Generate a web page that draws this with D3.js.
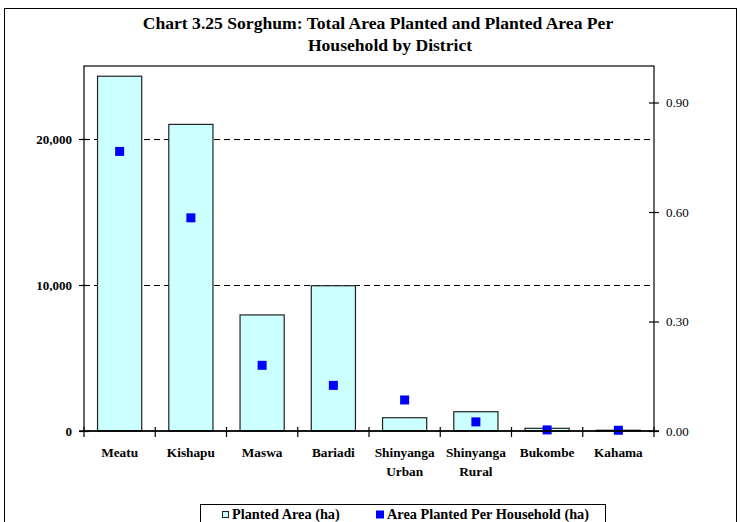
<!DOCTYPE html>
<html><head><meta charset="utf-8">
<script src="https://cdn.jsdelivr.net/npm/d3@7/dist/d3.min.js"></script>
<style>body{margin:0;background:#fff}svg{display:block}text{font-family:"Liberation Serif","Times New Roman",serif}</style>
</head><body><svg id="c" width="740" height="522"></svg>
<script>
const districts = [["Meatu"],["Kishapu"],["Maswa"],["Bariadi"],["Shinyanga","Urban"],["Shinyanga","Rural"],["Bukombe"],["Kahama"]];
const plantedArea = [24300, 21000, 7950, 9950, 910, 1320, 185, 50];
const perHousehold = [0.766, 0.584, 0.180, 0.125, 0.085, 0.025, 0.003, 0.002];
const leftTicks = [0, 10000, 20000];
const rightTicks = [0, 0.30, 0.60, 0.90];
const gridTicks = [10000, 20000];
const titleLines = ["Chart 3.25 Sorghum: Total Area Planted and Planted Area Per", "Household by District"];
const legendLabels = ["Planted Area (ha)", "Area Planted Per Household (ha)"];

const svg = d3.select("#c");
const L = 84, R = 654, T = 66, B = 431;
const names = districts.map(d => d.join(" "));
const x = d3.scaleBand().domain(names).range([L, R]).paddingInner(0.38).paddingOuter(0.19);
const xb = d3.scaleBand().domain(names).range([L, R]);
const yL = d3.scaleLinear().domain([0, 25000]).range([B, T]);
const yR = d3.scaleLinear().domain([0, 1.0]).range([B, T]);

// outer frame
svg.append("rect").attr("x", 4.5).attr("y", 8.5).attr("width", 732).attr("height", 530)
  .attr("fill", "none").attr("stroke", "#000").attr("stroke-width", 1);

// title
const titleX = [378, 390];
svg.append("g").selectAll("text").data(titleLines).join("text")
  .attr("x", (d, i) => titleX[i]).attr("y", (d, i) => 29 + i * 22).attr("text-anchor", "middle")
  .attr("font-size", 17.6).attr("font-weight", "bold").text(d => d);

// gridlines
svg.append("g").selectAll("line").data(gridTicks).join("line")
  .attr("x1", L).attr("x2", R).attr("y1", d => Math.round(yL(d)) + 0.5).attr("y2", d => Math.round(yL(d)) + 0.5)
  .attr("stroke", "#000").attr("stroke-dasharray", "6,4");

// bars
svg.append("g").selectAll("rect").data(plantedArea).join("rect")
  .attr("x", (d, i) => x(names[i])).attr("width", x.bandwidth())
  .attr("y", d => yL(d)).attr("height", d => B - yL(d))
  .attr("fill", "#CCFFFF").attr("stroke", "#222").attr("stroke-width", 1.2);

// markers
const ms = 9;
svg.append("g").selectAll("rect").data(perHousehold).join("rect")
  .attr("x", (d, i) => xb(names[i]) + xb.bandwidth() / 2 - ms / 2)
  .attr("y", d => yR(d) - ms / 2).attr("width", ms).attr("height", ms).attr("fill", "#0000FF");

// plot frame
svg.append("rect").attr("x", L).attr("y", T).attr("width", R - L).attr("height", B - T)
  .attr("fill", "none").attr("stroke", "#000").attr("stroke-width", 1.2);

// left axis
const gl = svg.append("g").attr("transform", `translate(${L},0)`)
  .call(d3.axisLeft(yL).tickValues(leftTicks).tickSize(5).tickFormat(d3.format(",")));
gl.select(".domain").remove();
gl.selectAll(".tick line").attr("x1", -5).attr("x2", 5).attr("stroke-width", 1.2);
gl.selectAll("text").attr("font-family", "Liberation Serif").attr("font-size", 13).attr("font-weight", "bold").attr("fill", "#000").attr("x", -12);

// right axis
const gr = svg.append("g").attr("transform", `translate(${R},0)`)
  .call(d3.axisRight(yR).tickValues(rightTicks).tickSize(5).tickFormat(d3.format(".2f")));
gr.select(".domain").remove();
gr.selectAll(".tick line").attr("x1", -5).attr("x2", 5).attr("stroke-width", 1.2);
gr.selectAll("text").attr("font-family", "Liberation Serif").attr("font-size", 13).attr("fill", "#000").attr("x", 12);

// bottom axis
svg.append("line").attr("x1", L - 5).attr("x2", R + 5).attr("y1", B).attr("y2", B).attr("stroke", "#000").attr("stroke-width", 1.5);
const bounds = names.map(n => xb(n)).concat([R]);
svg.append("g").selectAll("line").data(bounds).join("line")
  .attr("x1", d => d).attr("x2", d => d).attr("y1", B - 4).attr("y2", B + 6).attr("stroke", "#000").attr("stroke-width", 1.2);
const xl = svg.append("g").selectAll("text").data(districts).join("text")
  .attr("text-anchor", "middle").attr("font-size", 13.3).attr("font-weight", "bold")
  .attr("transform", (d, i) => `translate(${xb(names[i]) + xb.bandwidth() / 2},0)`);
xl.selectAll("tspan").data(d => d).join("tspan").attr("x", 0).attr("y", (d, j) => 457 + j * 19).text(d => d);

// legend
const lg = svg.append("g");
lg.append("rect").attr("x", 200.5).attr("y", 504.5).attr("width", 405).attr("height", 30).attr("fill", "#fff").attr("stroke", "#000");
lg.append("rect").attr("x", 222.5).attr("y", 511.5).attr("width", 6).attr("height", 6).attr("fill", "#CCFFFF").attr("stroke", "#222");
lg.append("text").attr("x", 232).attr("y", 519).attr("font-size", 14.3).attr("font-weight", "bold").text(legendLabels[0]);
lg.append("rect").attr("x", 376).attr("y", 510.5).attr("width", 8).attr("height", 8).attr("fill", "#0000FF");
lg.append("text").attr("x", 387).attr("y", 519).attr("font-size", 14.3).attr("font-weight", "bold").text(legendLabels[1]);
</script></body></html>
